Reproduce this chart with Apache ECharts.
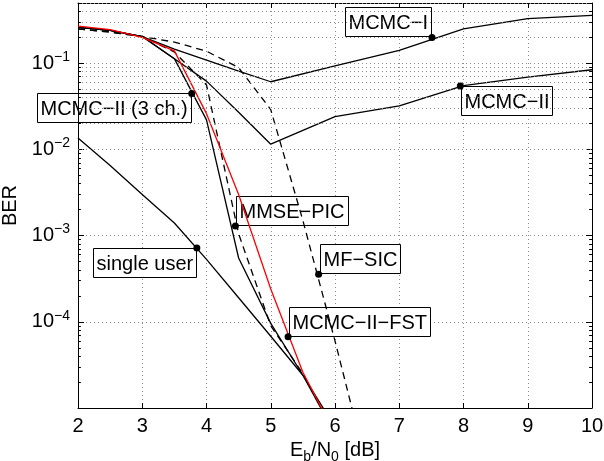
<!DOCTYPE html>
<html>
<head>
<meta charset="utf-8">
<script src="https://cdn.jsdelivr.net/npm/echarts@6/dist/echarts.min.js"></script>
<style>
  html, body { margin: 0; padding: 0; background: #fff; }
  #chart { width: 604px; height: 461px; }
</style>
</head>
<body>
<div id="chart"></div>
<script>
// Eb/N0 grids used by the different curves
const ebN0 = [2, 2.5, 3, 3.5, 4, 4.5, 5, 5.5, 6];
const ebN0Sic = [2, 2.5, 3, 3.5, 4, 4.5, 5, 5.5, 6, 6.5];
const ebN0Wide = [2, 2.5, 3, 3.5, 4, 4.5, 5, 6, 7, 8, 9, 10];

// BER values
const berSingleUser = [1.36e-2, 6.5e-3, 3.0e-3, 1.4e-3, 5.3e-4, 1.9e-4, 6.8e-5, 2.4e-5, 6e-6];
const berMcmc2ThreeCh = [0.26, 0.24, 0.204, 0.113, 0.022, 5.5e-4, 9.6e-5, 2.4e-5, 5e-6];
const berMmsePic = [0.25, 0.23, 0.204, 0.135, 0.056, 1.05e-3, 9e-5, 2.5e-5, 5e-6];
const berMcmc2Fst = [0.27, 0.245, 0.2, 0.139, 0.026, 3.0e-3, 2.4e-4, 2.6e-5, 5e-6];
const berMfSic = [0.25, 0.23, 0.204, 0.176, 0.138, 0.089, 0.029, 1.5e-3, 6e-5, 2e-6];
const berMcmc1 = [0.26, 0.24, 0.204, 0.146, 0.109, 0.081, 0.061, 0.093, 0.141, 0.25, 0.33, 0.36];
const berMcmc2 = [0.26, 0.24, 0.204, 0.113, 0.062, 0.027, 0.0115, 0.024, 0.032, 0.055, 0.069, 0.084];

// callouts (text boxes with a dot on the curve)
const calloutNames = ['MCMC−I', 'MCMC−II', 'MCMC−II (3 ch.)', 'MMSE−PIC', 'single user', 'MF−SIC', 'MCMC−II−FST'];
const calloutX = [7.51, 7.95, 3.77, 4.45, 3.85, 5.745, 5.27];
const calloutY = [0.199, 0.0546, 0.0446, 1.29e-3, 7.2e-4, 3.56e-4, 6.7e-5];

// axis ticks
const yDecades = [1e-5, 1e-4, 1e-3, 1e-2, 1e-1];
const yMinorSteps = [2, 3, 4, 5, 6, 7, 8, 9];
const yMin = 1e-5;
const yMax = 0.5;

const FONT = 'Liberation Sans, Arial, Helvetica, sans-serif';
const DOT = 7;

// which side of the dot each box goes: [horizontal, vertical]
const calloutAnchors = [
  ['left', 'up'],
  ['right', 'down'],
  ['left', 'down'],
  ['right', 'up'],
  ['left', 'down'],
  ['right', 'up'],
  ['right', 'up']
];

const minorValues = [];
yDecades.forEach(d => {
  yMinorSteps.forEach(s => {
    const v = d * s;
    if (v <= yMax + 1e-12) minorValues.push(v);
  });
});

const pairs = (xs, ys) => xs.map((x, i) => [x, ys[i]]);

function curve(name, xs, ys, color, dashed) {
  return {
    name,
    type: 'line',
    data: pairs(xs, ys),
    showSymbol: false,
    symbol: 'none',
    clip: true,
    lineStyle: { color, width: 1.3, type: dashed ? [7, 5] : 'solid' },
    z: 3
  };
}

const gridDot = { type: [1, 3], color: '#8c8c8c', width: 1 };
const tickLen = 0.045; // minor tick length in Eb/N0 units

const chart = echarts.init(document.getElementById('chart'), null, { renderer: 'canvas' });

chart.setOption({
  animation: false,
  backgroundColor: '#fff',
  grid: { left: 78, right: 12, top: 3, bottom: 53, containLabel: false, outerBoundsMode: 'none' },
  xAxis: [
    {
      type: 'value',
      min: 2,
      max: 10,
      interval: 1,
      position: 'bottom',
      axisLine: { show: true, lineStyle: { color: '#000', width: 1 } },
      axisTick: { show: true, inside: true, length: 5, lineStyle: { color: '#000' } },
      axisLabel: { color: '#000', fontSize: 20, fontFamily: FONT, margin: 8 },
      splitLine: { show: true, lineStyle: gridDot },
      name: '{n|E}{sub|b}{n|/N}{sub|0}{n| [dB]}',
      nameLocation: 'middle',
      nameGap: 22,
      nameTextStyle: {
        color: '#000',
        rich: {
          n: { fontSize: 20, fontFamily: FONT, color: '#000' },
          sub: { fontSize: 14, fontFamily: FONT, color: '#000', padding: [12, 0, 0, 0] }
        }
      }
    },
    {
      type: 'value',
      min: 2,
      max: 10,
      interval: 1,
      position: 'top',
      axisLine: { show: true, lineStyle: { color: '#000', width: 1 } },
      axisTick: { show: true, inside: true, length: 5, lineStyle: { color: '#000' } },
      axisLabel: { show: false },
      splitLine: { show: false }
    }
  ],
  yAxis: [
    {
      type: 'log',
      logBase: 10,
      min: yMin,
      max: yMax,
      position: 'left',
      axisLine: { show: true, lineStyle: { color: '#000', width: 1 } },
      axisTick: { show: true, inside: true, length: 6, lineStyle: { color: '#000' } },
      axisLabel: {
        color: '#000',
        margin: 8,
        formatter: v => {
          const l = Math.log10(v);
          const e = Math.round(l);
          if (Math.abs(l - e) > 1e-6 || e <= -5 || e >= 0) return '';
          return '{b|10}{s|−' + (-e) + '}';
        },
        rich: {
          b: { fontSize: 20, fontFamily: FONT, color: '#000' },
          s: { fontSize: 14, fontFamily: FONT, color: '#000', padding: [0, 0, 12, 0] }
        }
      },
      splitLine: { show: true, lineStyle: gridDot },
      name: 'BER',
      nameLocation: 'middle',
      nameGap: 47,
      nameTextStyle: { color: '#000', fontSize: 20, fontFamily: FONT }
    },
    {
      type: 'log',
      logBase: 10,
      min: yMin,
      max: yMax,
      position: 'right',
      axisLine: { show: true, lineStyle: { color: '#000', width: 1 } },
      axisTick: { show: true, inside: true, length: 6, lineStyle: { color: '#000' } },
      axisLabel: { show: false },
      splitLine: { show: false }
    }
  ],
  series: [
    {
      name: 'minor grid',
      type: 'line',
      data: [],
      silent: true,
      markLine: {
        silent: true,
        symbol: 'none',
        label: { show: false },
        lineStyle: gridDot,
        data: minorValues.map(v => ({ yAxis: v }))
      }
    },
    {
      name: 'minor ticks',
      type: 'line',
      data: [],
      silent: true,
      markLine: {
        silent: true,
        symbol: 'none',
        label: { show: false },
        lineStyle: { color: '#000', width: 1, type: 'solid' },
        data: minorValues.flatMap(v => [
          [{ coord: [2, v] }, { coord: [2 + tickLen, v] }],
          [{ coord: [10 - tickLen, v] }, { coord: [10, v] }]
        ])
      }
    },
    curve('single user', ebN0, berSingleUser, '#000', false),
    curve('MCMC-I', ebN0Wide, berMcmc1, '#000', false),
    curve('MCMC-II', ebN0Wide, berMcmc2, '#000', false),
    curve('MCMC-II (3 ch.)', ebN0, berMcmc2ThreeCh, '#000', false),
    curve('MMSE-PIC', ebN0, berMmsePic, '#000', true),
    curve('MF-SIC', ebN0Sic, berMfSic, '#000', true),
    curve('MCMC-II-FST', ebN0, berMcmc2Fst, '#ff0000', false),
    {
      id: 'callouts',
      name: 'callouts',
      type: 'scatter',
      symbol: 'circle',
      symbolSize: DOT,
      itemStyle: { color: '#000', opacity: 1 },
      z: 20,
      silent: true,
      data: pairs(calloutX, calloutY)
    }
  ]
});

// text boxes: placed next to each dot, frame snapped to whole pixels
const measureCtx = document.createElement('canvas').getContext('2d');
measureCtx.font = '20px ' + FONT;
const PAD = 3;
const BOX_H = 29;

const boxes = calloutNames.map((n, i) => {
  const p = chart.convertToPixel({ seriesId: 'callouts' }, [calloutX[i], calloutY[i]]);
  const w = Math.ceil(measureCtx.measureText(n).width) + PAD * 2;
  const px = Math.round(p[0]);
  const py = Math.round(p[1]);
  const x = calloutAnchors[i][0] === 'left' ? px - w - 1 : px + 1;
  const y = calloutAnchors[i][1] === 'up' ? py - BOX_H - 1 : py;
  return {
    type: 'group',
    z: 10,
    silent: true,
    children: [
      {
        type: 'rect',
        shape: { x: x + 0.5, y: y + 0.5, width: w, height: BOX_H },
        style: { fill: '#fff', stroke: '#000', lineWidth: 1 }
      },
      {
        type: 'text',
        style: {
          text: n,
          x: x + 0.5 + PAD,
          y: y + 0.5 + BOX_H / 2 + 1,
          font: '20px ' + FONT,
          fill: '#000',
          align: 'left',
          verticalAlign: 'middle'
        }
      }
    ]
  };
});

chart.setOption({ graphic: boxes });
</script>
</body>
</html>
